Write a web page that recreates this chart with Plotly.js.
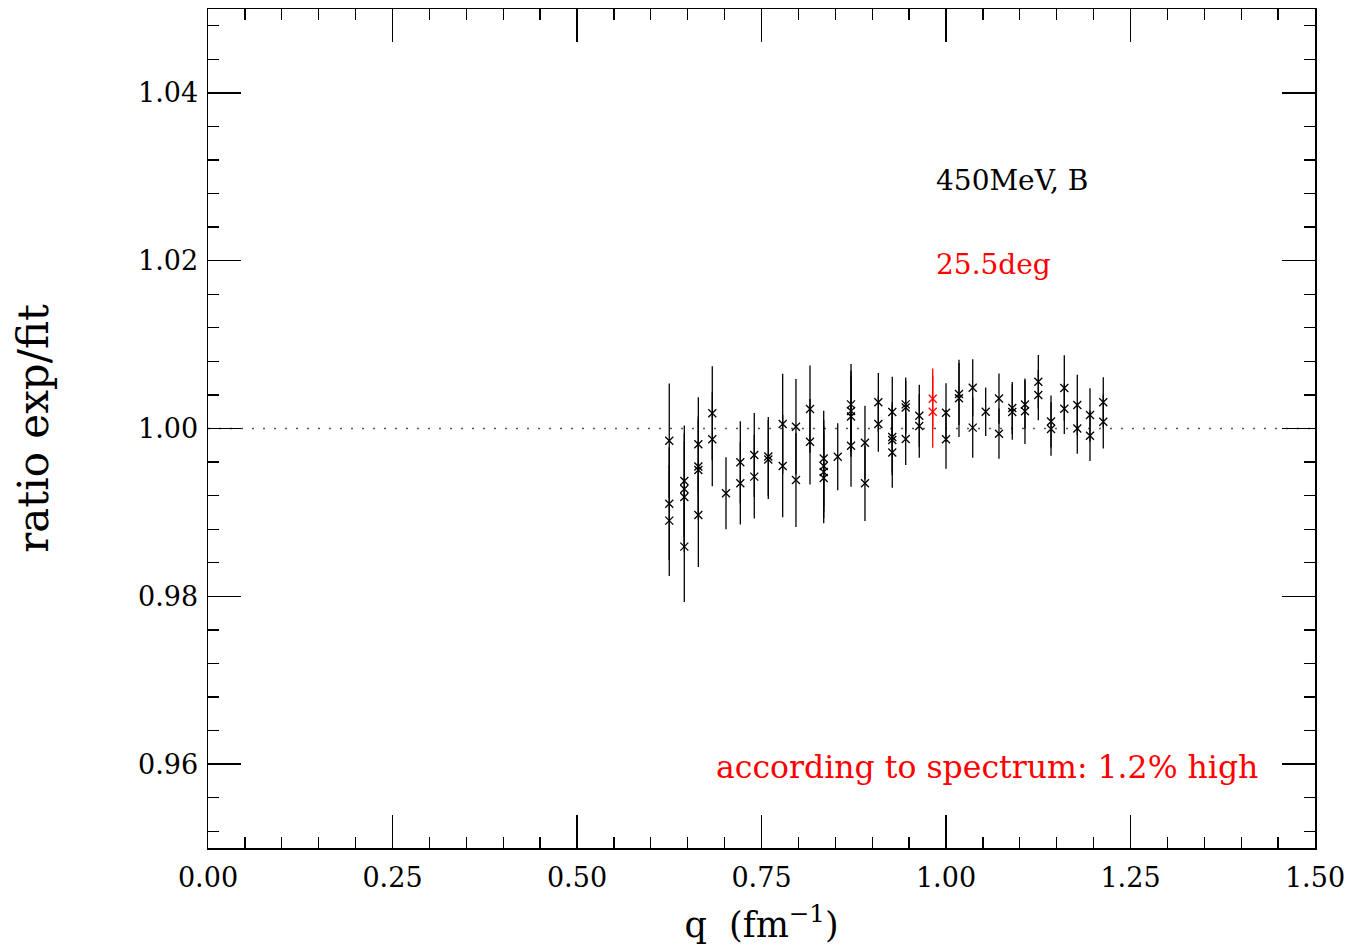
<!DOCTYPE html>
<html>
<head>
<meta charset="utf-8">
<script src="https://cdn.plot.ly/plotly-3.0.1.min.js"></script>
<style>html,body{margin:0;padding:0;background:#fff;}#chart{width:1353px;height:947px;}</style>
</head>
<body>
<div id="chart"></div>
<script>
// black data points: q (fm^-1), ratio exp/fit, error
var q = [
  0.625, 0.625, 0.625,
  0.6454, 0.6454, 0.6454, 0.6454,
  0.6644, 0.6644, 0.6644, 0.6644,
  0.6833, 0.6833,
  0.7019,
  0.7213, 0.7213,
  0.7402, 0.7402,
  0.7592, 0.7592,
  0.7787, 0.7787,
  0.7967, 0.7967,
  0.8157, 0.8157,
  0.8343, 0.8343, 0.8343, 0.8343,
  0.8533,
  0.8713, 0.8713, 0.8713, 0.8713,
  0.8902, 0.8902,
  0.9083, 0.9083,
  0.9272, 0.9272, 0.9272, 0.9272,
  0.9454, 0.9454, 0.9454,
  0.9638, 0.9638,
  1.0000, 1.0000,
  1.0176, 1.0176,
  1.0362, 1.0362,
  1.0538,
  1.0718, 1.0718,
  1.0898, 1.0898,
  1.1070, 1.1070,
  1.1251, 1.1251,
  1.1423, 1.1423,
  1.1603, 1.1603,
  1.1779, 1.1779,
  1.1951, 1.1951,
  1.2131, 1.2131
];
var ratio = [
  0.99855, 0.99104, 0.98902,
  0.99375, 0.99279, 0.99184, 0.98592,
  0.99812, 0.99547, 0.99506, 0.98970,
  1.00181, 0.99871,
  0.99228,
  0.99597, 0.99347,
  0.99684, 0.99426,
  0.99666, 0.99631,
  1.00054, 0.99553,
  1.00021, 0.99387,
  1.00232, 0.99843,
  0.99643, 0.99553, 0.99482, 0.99410,
  0.99664,
  1.00288, 1.00208, 1.00143, 0.99795,
  0.99831, 0.99347,
  1.00312, 1.00054,
  1.00197, 0.99899, 0.99863, 0.99714,
  1.00288, 1.00250, 0.99875,
  1.00152, 1.00030,
  1.00188, 0.99871,
  1.00411, 1.00360,
  1.00486, 1.00010,
  1.00200,
  1.00357, 0.99938,
  1.00244, 1.00197,
  1.00286, 1.00205,
  1.00557, 1.00399,
  1.00083, 0.99994,
  1.00482, 1.00235,
  1.00280, 1.00000,
  1.00161, 0.99914,
  1.00312, 1.00081
];
var err = [
  0.0068, 0.0067, 0.0066,
  0.0066, 0.0066, 0.0066, 0.0066,
  0.0056, 0.0060, 0.0060, 0.0062,
  0.0056, 0.0056,
  0.0043,
  0.0049, 0.0049,
  0.0050, 0.0050,
  0.0047, 0.0047,
  0.0060, 0.0061,
  0.0057, 0.0056,
  0.0052, 0.0051,
  0.0057, 0.0055, 0.0055, 0.0054,
  0.0040,
  0.0048, 0.0048, 0.0048, 0.0049,
  0.0044, 0.0045,
  0.0035, 0.0033,
  0.0042, 0.0042, 0.0042, 0.0042,
  0.0032, 0.0032, 0.0031,
  0.0037, 0.0038,
  0.0035, 0.0035,
  0.0037, 0.0046,
  0.0034, 0.0036,
  0.0029,
  0.0030, 0.0030,
  0.0031, 0.0033,
  0.0029, 0.0039,
  0.0032, 0.0030,
  0.0031, 0.0032,
  0.0039, 0.0030,
  0.0036, 0.0030,
  0.0032, 0.0030,
  0.0030, 0.0032
];
// red data points (25.5 deg)
var qRed = [0.982, 0.982];
var ratioRed = [1.00354, 1.00200];
var errRed = [0.0036, 0.0043];

var xTickVals = [0, 0.25, 0.5, 0.75, 1.0, 1.25, 1.5];
var xTickText = ["0.00", "0.25", "0.50", "0.75", "1.00", "1.25", "1.50"];
var yTickVals = [0.96, 0.98, 1.00, 1.02, 1.04];
var yTickText = ["0.96", "0.98", "1.00", "1.02", "1.04"];

var FONT = "DejaVu Serif, serif";

var traces = [
  {
    x: q, y: ratio, type: 'scatter', mode: 'markers',
    marker: {symbol: 'x-thin-open', size: 8, color: '#000', line: {color: '#000', width: 1.3}},
    error_y: {type: 'data', array: err, visible: true, width: 0, thickness: 1.3, color: '#000'},
    hoverinfo: 'x+y', showlegend: false
  },
  {
    x: qRed, y: ratioRed, type: 'scatter', mode: 'markers',
    marker: {symbol: 'x-thin-open', size: 8, color: '#ff0000', line: {color: '#ff0000', width: 1.3}},
    error_y: {type: 'data', array: errRed, visible: true, width: 0, thickness: 1.3, color: '#ff0000'},
    hoverinfo: 'x+y', showlegend: false
  }
];

var layout = {
  width: 1353, height: 947,
  paper_bgcolor: '#fff', plot_bgcolor: '#fff',
  margin: {l: 208, r: 38, t: 9, b: 99, pad: 0},
  font: {family: FONT, color: '#000', size: 27},
  showlegend: false,
  xaxis: {
    range: [0, 1.5], tickmode: 'array', tickvals: xTickVals, ticktext: xTickText,
    ticks: 'inside', ticklen: 33, tickwidth: 1.3, tickcolor: '#000',
    minor: {dtick: 0.05, ticks: 'inside', ticklen: 11, tickwidth: 1.3, tickcolor: '#000', showgrid: false},
    showline: true, linecolor: '#000', linewidth: 1.5, mirror: 'allticks',
    showgrid: false, zeroline: false, ticklabelstandoff: 5,
    tickfont: {family: FONT, size: 27, color: '#000'},
    title: {text: 'q  (fm<sup>−1</sup>)', font: {family: FONT, size: 35, color: '#000'}, standoff: 20}
  },
  yaxis: {
    range: [0.95, 1.05], tickmode: 'array', tickvals: yTickVals, ticktext: yTickText,
    ticks: 'inside', ticklen: 33, tickwidth: 1.3, tickcolor: '#000',
    minor: {dtick: 0.004, ticks: 'inside', ticklen: 11, tickwidth: 1.3, tickcolor: '#000', showgrid: false},
    showline: true, linecolor: '#000', linewidth: 1.5, mirror: 'allticks',
    showgrid: false, zeroline: false, ticklabelstandoff: 3,
    tickfont: {family: FONT, size: 27, color: '#000'},
    title: {text: 'ratio exp/fit', font: {family: FONT, size: 42, color: '#000'}, standoff: 76}
  },
  shapes: [
    {type: 'line', xref: 'x', yref: 'y', x0: 0, x1: 1.5, y0: 1.0, y1: 1.0,
     line: {color: '#555', width: 1.5, dash: '2px,9px'}, layer: 'below'}
  ],
  annotations: [
    {xref: 'x', yref: 'y', x: 0.9837, y: 1.0296, text: '450MeV, B', showarrow: false,
     xanchor: 'left', yanchor: 'middle', font: {family: FONT, size: 28, color: '#000'}},
    {xref: 'x', yref: 'y', x: 0.9837, y: 1.0195, text: '25.5deg', showarrow: false,
     xanchor: 'left', yanchor: 'middle', font: {family: FONT, size: 28, color: '#ff0000'}},
    {xref: 'x', yref: 'y', x: 1.4255, y: 0.9597, text: 'according to spectrum: 1.2% high', showarrow: false,
     xanchor: 'right', yanchor: 'middle', font: {family: FONT, size: 31.5, color: '#ff0000'}}
  ]
};

Plotly.newPlot('chart', traces, layout, {displayModeBar: false, staticPlot: true});
</script>
</body>
</html>
